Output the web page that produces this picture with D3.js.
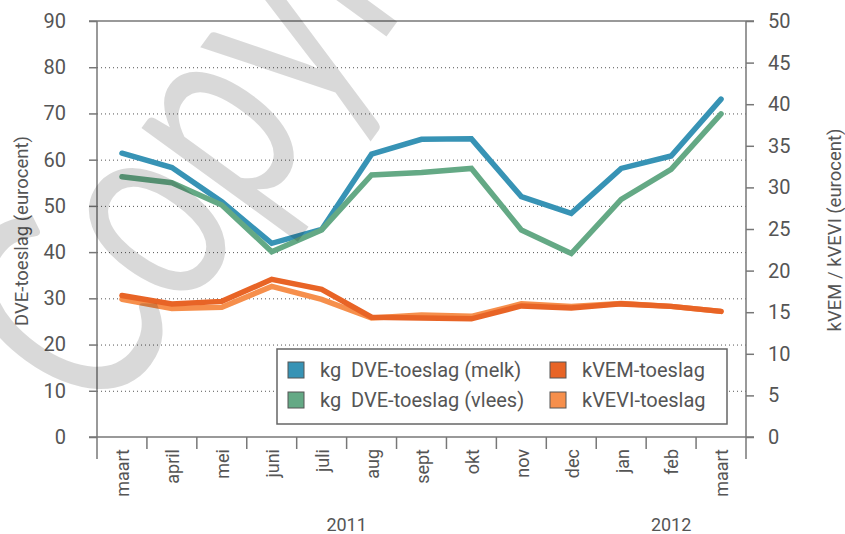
<!DOCTYPE html>
<html>
<head>
<meta charset="utf-8">
<script src="https://cdn.jsdelivr.net/npm/d3@7"></script>
<style>
  body { margin: 0; background: #fff; }
  svg { display: block; font-family: Roboto, "Noto Sans", sans-serif; }
</style>
</head>
<body>
<div class="canvas"></div>
<script>
const months = ['maart', 'april', 'mei', 'juni', 'juli', 'aug', 'sept', 'okt', 'nov', 'dec', 'jan', 'feb', 'maart'];

// left axis (eurocent)
const dveMelk = [61.4, 58.3, 50.9, 41.9, 44.9, 61.2, 64.4, 64.5, 52.0, 48.4, 58.1, 60.8, 73.1];
const dveVlees = [56.3, 55.0, 50.2, 40.1, 44.8, 56.7, 57.2, 58.1, 44.8, 39.7, 51.4, 57.9, 69.9];

// right axis (eurocent)
const kvem = [17.0, 16.0, 16.3, 18.95, 17.75, 14.4, 14.3, 14.2, 15.75, 15.5, 16.0, 15.7, 15.1];
const kvevi = [16.55, 15.45, 15.6, 18.1, 16.55, 14.3, 14.65, 14.5, 16.0, 15.7, 16.05, 15.7, 15.1];

const leftTicks = [0, 10, 20, 30, 40, 50, 60, 70, 80, 90];
const rightTicks = [0, 5, 10, 15, 20, 25, 30, 35, 40, 45, 50];
const years = [{ label: '2011', at: 5, band: 0 }, { label: '2012', at: 11, band: 0.5 }];

const series = [
  { name: 'kg  DVE-toeslag (melk)', values: dveMelk, axis: 'left', color: '#3793b5' },
  { name: 'kg  DVE-toeslag (vlees)', values: dveVlees, axis: 'left', color: '#64a985' },
  { name: 'kVEVI-toeslag', values: kvevi, axis: 'right', color: '#f68f4c' },
  { name: 'kVEM-toeslag', values: kvem, axis: 'right', color: '#e86426' },
];

const dims = { width: 845, height: 534 };
const plot = { left: 97, right: 746, top: 21, bottom: 437 };
const textColor = '#555';
const axisColor = '#777';

const svg = d3
  .select('.canvas')
  .append('svg')
  .attr('width', dims.width)
  .attr('height', dims.height);

const x = d3
  .scaleBand()
  .domain(d3.range(months.length))
  .range([plot.left, plot.right]);

const yL = d3.scaleLinear().domain([0, 90]).range([plot.bottom, plot.top]);
const yR = d3.scaleLinear().domain([0, 50]).range([plot.bottom, plot.top]);

// dotted grid
svg
  .append('g')
  .selectAll('line')
  .data(leftTicks.filter((d) => d > 0 && d < 90))
  .enter()
  .append('line')
  .attr('x1', plot.left)
  .attr('x2', plot.right)
  .attr('y1', (d) => yL(d) + 0.5)
  .attr('y2', (d) => yL(d) + 0.5)
  .attr('stroke', '#555')
  .attr('stroke-width', 1)
  .attr('stroke-dasharray', '1,3');

// axes
const leftAxis = d3
  .axisLeft(yL)
  .tickValues(leftTicks)
  .tickSize(8)
  .tickPadding(23);

const rightAxis = d3
  .axisRight(yR)
  .tickValues(rightTicks)
  .tickSize(8)
  .tickPadding(14);

const styleAxis = (g) => {
  g.select('.domain').remove();
  g.selectAll('line').attr('stroke', axisColor).attr('stroke-width', 1.5);
  g.selectAll('text')
    .attr('fill', textColor)
    .attr('font-size', 20)
    .attr('font-family', 'Roboto, sans-serif');
};

svg.append('g').attr('transform', `translate(${plot.left},0)`).call(leftAxis).call(styleAxis);
svg.append('g').attr('transform', `translate(${plot.right},0)`).call(rightAxis).call(styleAxis);

// frame
const frame = svg.append('g').attr('stroke', axisColor).attr('stroke-width', 1.5);
frame.append('line').attr('x1', plot.left - 8).attr('x2', plot.right + 8).attr('y1', plot.top).attr('y2', plot.top);
frame.append('line').attr('x1', plot.left - 8).attr('x2', plot.right + 8).attr('y1', plot.bottom).attr('y2', plot.bottom);
frame.append('line').attr('x1', plot.left).attr('x2', plot.left).attr('y1', plot.top).attr('y2', plot.bottom + 22);
frame.append('line').attr('x1', plot.right).attr('x2', plot.right).attr('y1', plot.top).attr('y2', plot.bottom + 22);

// month separators
frame
  .selectAll('.sep')
  .data(d3.range(1, months.length))
  .enter()
  .append('line')
  .attr('class', 'sep')
  .attr('x1', (d) => x(d))
  .attr('x2', (d) => x(d))
  .attr('y1', plot.bottom)
  .attr('y2', plot.bottom + 12);

// month labels
svg
  .append('g')
  .selectAll('text')
  .data(months)
  .enter()
  .append('text')
  .attr('transform', (d, i) => `translate(${x(i) + x.bandwidth() / 2 + 1}, ${plot.bottom + 12}) rotate(-90)`)
  .attr('text-anchor', 'end')
  .attr('dy', '0.35em')
  .attr('fill', textColor)
  .attr('font-size', 18)
  .text((d) => d);

// year labels
svg
  .append('g')
  .selectAll('text')
  .data(years)
  .enter()
  .append('text')
  .attr('x', (d) => x(d.at) + x.bandwidth() * d.band)
  .attr('y', 531)
  .attr('text-anchor', 'middle')
  .attr('fill', textColor)
  .attr('font-size', 18)
  .text((d) => d.label);

// axis titles
svg
  .append('text')
  .attr('transform', 'translate(28, 231) rotate(-90)')
  .attr('text-anchor', 'middle')
  .attr('fill', textColor)
  .attr('font-size', 18.5)
  .text('DVE-toeslag (eurocent)');

svg
  .append('text')
  .attr('transform', 'translate(841, 230) rotate(-90)')
  .attr('text-anchor', 'middle')
  .attr('fill', textColor)
  .attr('font-size', 18.5)
  .text('kVEM / kVEVI (eurocent)');

// lines
const lineFor = (s) =>
  d3
    .line()
    .x((d, i) => x(i) + x.bandwidth() / 2)
    .y((d) => (s.axis === 'left' ? yL(d) : yR(d)));

svg
  .append('g')
  .selectAll('path')
  .data(series)
  .enter()
  .append('path')
  .attr('d', (s) => lineFor(s)(s.values))
  .attr('fill', 'none')
  .attr('stroke', (s) => s.color)
  .attr('stroke-width', 5.5)
  .attr('stroke-linejoin', 'miter')
  .attr('stroke-linecap', 'round');

// legend
const legendOrder = [series[0], series[3], series[1], series[2]];
const legend = svg.append('g').attr('transform', 'translate(277, 349)');

legend
  .append('rect')
  .attr('width', 450)
  .attr('height', 75)
  .attr('fill', '#fff')
  .attr('stroke', '#666')
  .attr('stroke-width', 1.5);

const legendItems = legend
  .selectAll('.legend-item')
  .data(legendOrder)
  .enter()
  .append('g')
  .attr('class', 'legend-item')
  .attr('transform', (d, i) => `translate(${i % 2 ? 273 : 11}, ${13 + Math.floor(i / 2) * 30})`);

legendItems
  .append('rect')
  .attr('width', 16)
  .attr('height', 16)
  .attr('fill', (d) => d.color)
  .attr('stroke', '#555')
  .attr('stroke-width', 1);

legendItems
  .append('text')
  .attr('x', 32)
  .attr('y', 15)
  .attr('fill', textColor)
  .attr('font-size', 20)
  .attr('xml:space', 'preserve')
  .style('white-space', 'pre')
  .text((d) => d.name);

// watermark
svg
  .append('text')
  .attr('transform', 'translate(102, 428) rotate(-54) scale(0.72, 1)')
  .attr('font-family', 'Lato, sans-serif')
  .attr('font-size', 285)
  .attr('fill', '#000')
  .attr('fill-opacity', 0.15)
  .text('Copyright');
</script>
</body>
</html>
